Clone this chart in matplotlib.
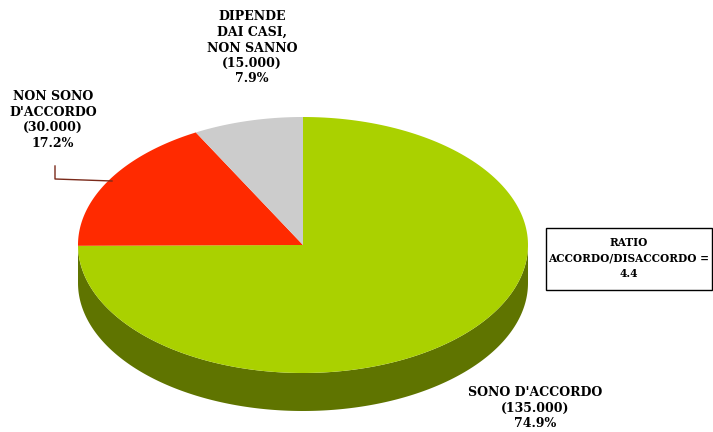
import numpy as np
import matplotlib
matplotlib.use("Agg")
import matplotlib.pyplot as plt
from matplotlib.patches import Polygon, Rectangle

# Survey answers
categories = ["SONO D'ACCORDO", "NON SONO\nD'ACCORDO", "DIPENDE\nDAI CASI,\nNON SANNO"]
counts = [135000, 30000, 15000]
percents = [74.9, 17.2, 7.9]

top_colors = ["#AAD100", "#FF2A00", "#CCCCCC"]
side_colors = ["#5F7400", "#8F1800", "#808080"]

W, H = 713, 432
fig = plt.figure(figsize=(W / 100, H / 100), dpi=100)
ax = fig.add_axes([0, 0, 1, 1])
ax.set_xlim(0, W)
ax.set_ylim(H, 0)
ax.axis("off")

# 3D pie geometry (axes units are pixels, y pointing down)
cx, cy, rx, ry, depth = 303, 245, 225, 128, 38


def arc(t0, t1, dy=0.0, n=200):
    t = np.radians(np.linspace(t0, t1, n))
    return np.column_stack([cx + rx * np.cos(t), cy + dy - ry * np.sin(t)])


# slice angles: start at 12 o'clock, clockwise
spans = [p / 100 * 360 for p in percents]
starts = 90 - np.concatenate([[0], np.cumsum(spans)[:-1]])
ends = starts - np.array(spans)

font = dict(family="DejaVu Serif", fontweight="bold", color="black")

# side walls (only the front half of the rim, angles -180..0, is visible)
for s, e, c in zip(starts, ends, side_colors):
    for shift in (0, 360, -360):
        a, b = max(e + shift, -180), min(s + shift, 0)
        if b > a:
            top = arc(b, a)
            bot = arc(a, b, dy=depth)
            ax.add_patch(Polygon(np.vstack([top, bot]), closed=True,
                                 facecolor=c, edgecolor="none", zorder=1))

# top faces
for s, e, c in zip(starts, ends, top_colors):
    pts = np.vstack([[cx, cy], arc(s, e)])
    ax.add_patch(Polygon(pts, closed=True, facecolor=c, edgecolor="none",
                         zorder=2))


def label_text(cat, n, p):
    num = f"{n:,}".replace(",", ".")
    return f"{cat}\n({num})\n{p}%"


label_pos = [(535, 408), (53, 120), (252, 48)]
for cat, n, p, (x, y) in zip(categories, counts, percents, label_pos):
    ax.text(x, y, label_text(cat, n, p), ha="center", va="center",
            linespacing=1.25, fontsize=9, zorder=5, **font)

# leader line for the red slice
ax.plot([55, 55, 112], [166, 179, 181], color="#7A2A1A", lw=1.0, zorder=4)

# ratio box
ratio = round(percents[0] / percents[1], 1)
ax.add_patch(Rectangle((545.5, 227.5), 166, 62, facecolor="white",
                       edgecolor="black", lw=1.0, zorder=5))
ax.text(628.5, 258, f"RATIO\nACCORDO/DISACCORDO =\n{ratio}", ha="center",
        va="center", linespacing=1.45, fontsize=7.6, zorder=6, **font)

fig.savefig("out.png", dpi=100)
